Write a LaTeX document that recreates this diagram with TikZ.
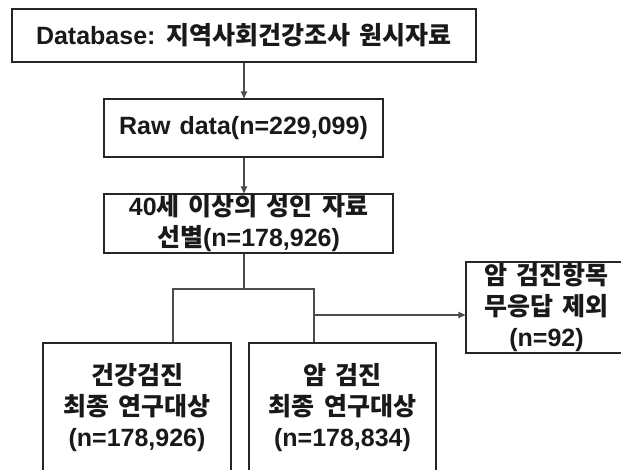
\documentclass[tikz,border=0pt]{standalone}
\usepackage{fontspec}
\setmainfont{Liberation Sans}[WordSpace=1.3]
\newfontfamily\kr{Noto Sans CJK KR}[Scale=1.0, WordSpace=1.6]
\usetikzlibrary{arrows.meta}
\begin{document}
\begin{tikzpicture}[x=1pt,y=-1pt,
  font=\fontsize{25}{31}\selectfont\bfseries,
  box/.style={draw=black!85, line width=1.3pt, rectangle, inner sep=0pt, align=center, anchor=center, text=black!90},
  conn/.style={draw=black!70, line width=1.1pt},
  arr/.style={conn, -{Triangle[length=7pt,width=6.5pt]}}]
\useasboundingbox (0,0) rectangle (621,470);
\clip (0,0) rectangle (621,470);
\node[box, minimum width=464pt, minimum height=53pt] (db) at (244,35.5) {Database: {\kr 지역사회건강조사 원시자료}};
\node[box, minimum width=279pt, minimum height=58pt] (raw) at (243.5,128) {Raw data(n=229,099)};
\node[box, minimum width=289pt, minimum height=59pt] (sel) at (248.5,223.5) {40{\kr 세 이상의 성인 자료}\\{\kr 선별}(n=178,926)};
\node[box, minimum width=188pt, minimum height=130pt] (hc) at (137,408) {{\kr 건강검진}\\{\kr 최종 연구대상}\\(n=178,926)};
\node[box, minimum width=187pt, minimum height=130pt] (cc) at (342.5,408) {{\kr 암 검진}\\{\kr 최종 연구대상}\\(n=178,834)};
\node[box, minimum width=161pt, minimum height=91pt] (ex) at (546.5,307.5) {{\kr 암 검진항목}\\{\kr 무응답 제외}\\(n=92)};
\coordinate (j) at (244,289);
\coordinate (bl) at (173,289);
\coordinate (br) at (314,289);
\coordinate (a) at (314,315);
\draw[arr] (j |- db.south) -- (j |- raw.north);
\draw[arr] (j |- raw.south) -- (j |- sel.north);
\draw[conn] (j |- sel.south) -- (j);
\draw[conn] (bl |- hc.north) -- (bl) -- (br) -- (br |- cc.north);
\draw[arr] (a) -- (a -| ex.west);
\end{tikzpicture}
\end{document}
